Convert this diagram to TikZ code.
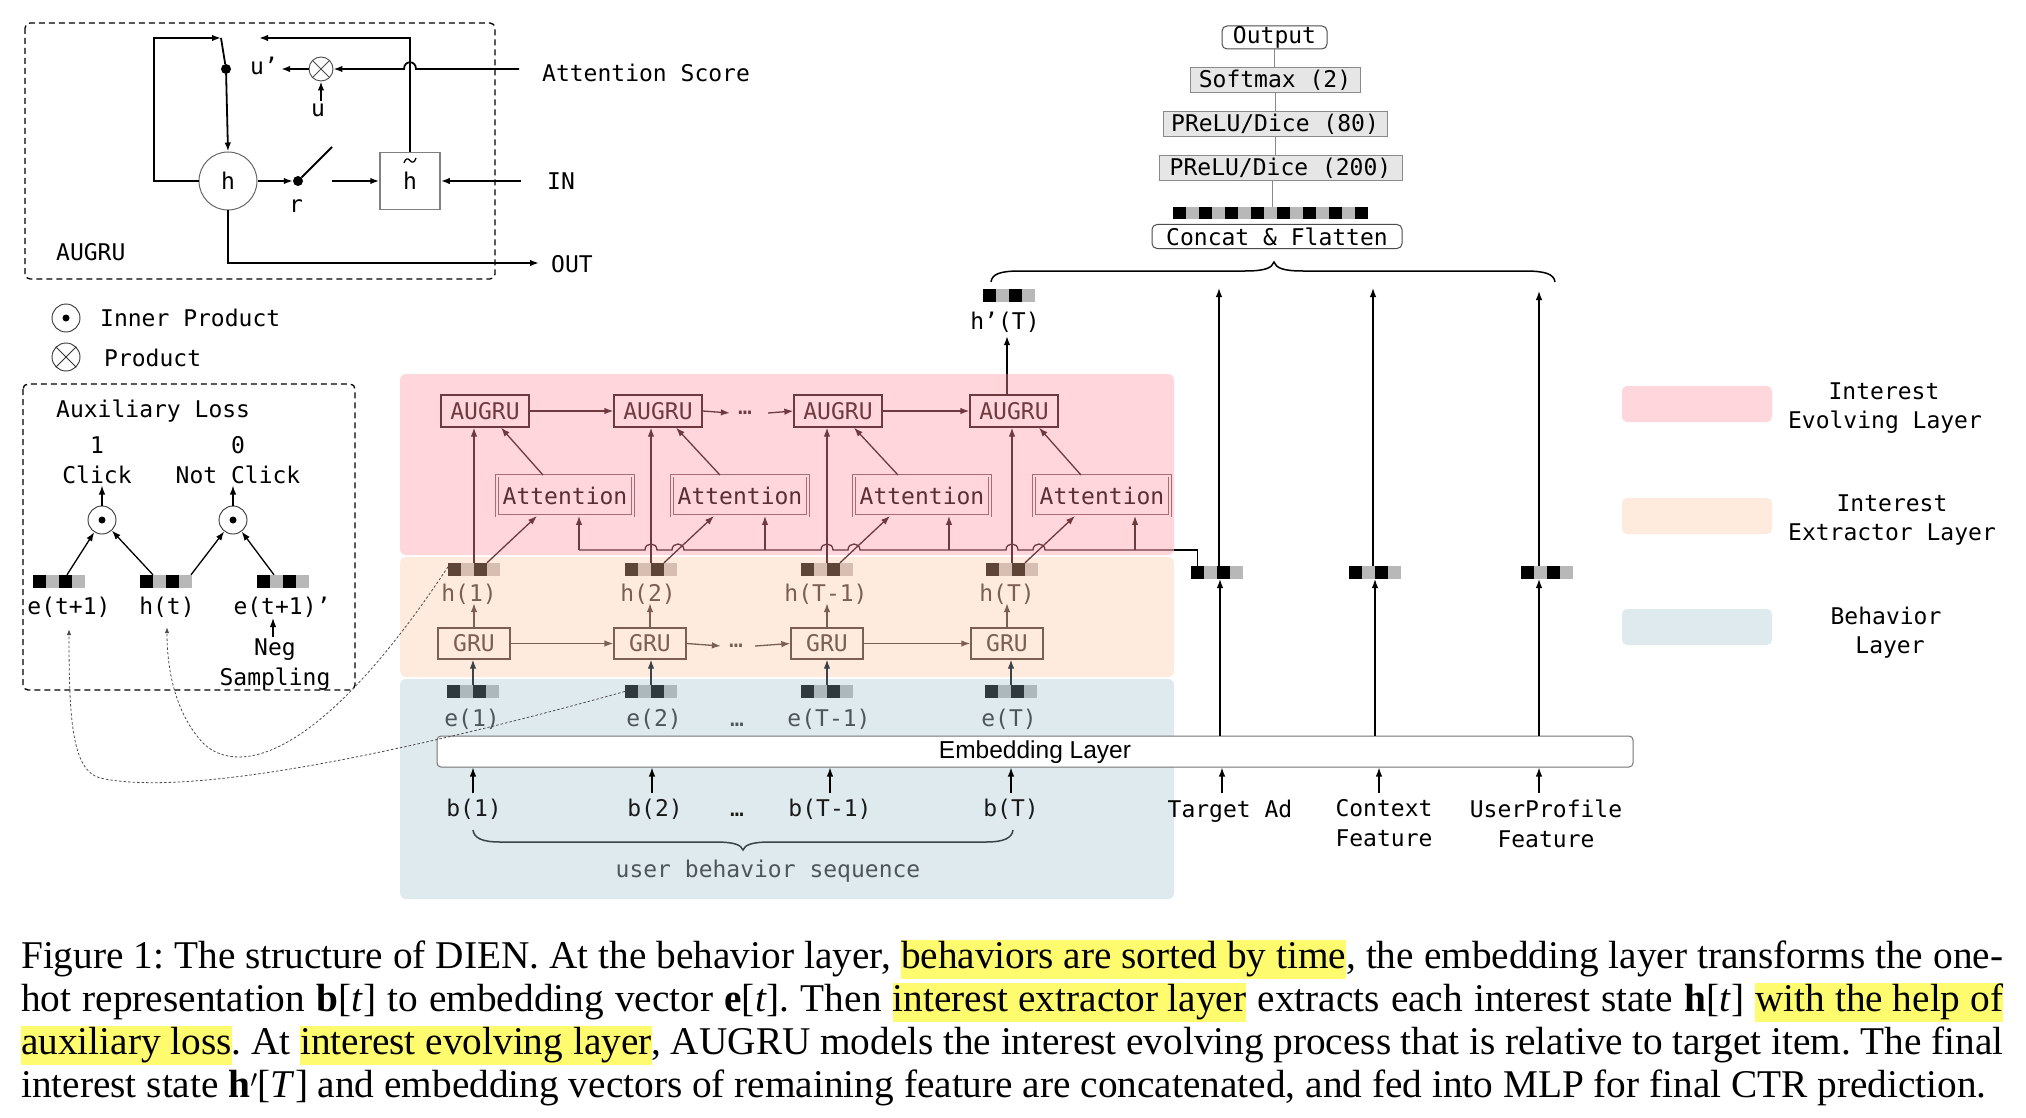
\documentclass[tikz,border=0pt]{standalone}
\usepackage{fontspec}
\setmainfont{Liberation Serif}
\newfontfamily\mono{DejaVu Sans Mono}
\newfontfamily\helv{Liberation Sans}
\usetikzlibrary{arrows.meta}
\definecolor{pinkL}{HTML}{FFD6DB}
\definecolor{peachL}{HTML}{FEEBDE}
\definecolor{blueL}{HTML}{DFEAEF}
\definecolor{evol}{HTML}{6E3A40}
\definecolor{attb}{HTML}{A86C72}
\definecolor{attt}{HTML}{5A2E34}
\definecolor{extr}{HTML}{7A5F52}
\definecolor{behv}{HTML}{3A4347}
\definecolor{etext}{HTML}{4C565B}
\definecolor{hdark}{HTML}{5E4537}
\definecolor{hlight}{HTML}{D6BFB2}
\definecolor{edark}{HTML}{2F393E}
\definecolor{elight}{HTML}{ADB8BD}
\definecolor{vgray}{HTML}{B8B8B8}
\definecolor{boxgray}{HTML}{E6E6E6}
\definecolor{mlpgray}{HTML}{8A8A8A}
\definecolor{hly}{HTML}{FFFB6E}
\newcommand\mf{\mono\fontsize{23}{27}\selectfont}
\newcommand\hlt[1]{{\setlength{\fboxsep}{0pt}\colorbox{hly}{\rule[-11pt]{0pt}{39pt}#1}}}
\newcommand\vecbar[5]{%
  \fill[#4] (#2,#3) rectangle ++(13,13);
  \fill[#5] (#2+13,#3) rectangle ++(13,13);
  \fill[#4] (#2+26,#3) rectangle ++(13,13);
  \fill[#5] (#2+39,#3) rectangle ++(13,13);
  \node[inner sep=0pt, minimum width=52pt, minimum height=13pt] (#1) at (#2+26,#3+6.5) {};
}
\tikzset{
  mt/.style={font=\mf, inner sep=0pt},
  tip/.style={-{Latex[length=9pt,width=6.5pt]}},
  ln/.style={line width=1.3pt},
  thk/.style={line width=1.8pt},
  dbox/.style={draw=black, dash pattern=on 6pt off 4pt, line width=1.3pt, rounded corners=5pt},
  augbox/.style={draw=evol, line width=1.3pt, minimum width=88pt, minimum height=32pt, inner sep=0pt, font=\mf, text=evol},
  attbox/.style={draw=attb, double=pinkL, double distance=2pt, line width=0.9pt, minimum width=136pt, minimum height=40pt, inner sep=0pt, font=\mf, text=attt},
  grubox/.style={draw=extr, line width=1.3pt, minimum width=72pt, minimum height=31pt, inner sep=0pt, font=\mf, text=extr},
  mlpbox/.style={draw=mlpgray, fill=boxgray, line width=1pt, minimum height=25pt, inner sep=0pt, font=\mf},
  rbox/.style={draw=black!70, rounded corners=5pt, line width=1pt, minimum height=24pt, inner sep=0pt, font=\mf},
  odotn/.style={circle, draw=black!80, line width=0.9pt, minimum size=28pt, inner sep=0pt},
  dotc/.style={draw=black!70, line width=0.8pt, dash pattern=on 2.5pt off 2pt, -{Latex[length=6pt,width=4.5pt]}},
  lay/.style={rounded corners=6pt},
}
\begin{document}
\begin{tikzpicture}[x=1pt,y=-1pt]
\useasboundingbox (0,0) rectangle (2026,1118);
\fill[white] (0,0) rectangle (2026,1118);

% ================= AUGRU panel =================
\draw[dbox] (25,23) rectangle (495,279);
\node[circle, draw=black!60, line width=1pt, minimum size=58pt, inner sep=0pt, mt] (hc) at (228,181) {h};
\node[draw=black!50, line width=1.5pt, minimum width=60pt, minimum height=57pt, inner sep=0pt] (ht) at (410,181) {};
\node[mt, anchor=base] (htl) at (410,190) {h};
\draw[black, line width=1.3pt] (404,163) .. controls (405.5,158) and (408,158) .. (410,160.5) .. controls (412,163) and (414.5,163) .. (416,158);
\node[circle, fill=black, inner sep=0pt, minimum size=10pt] (d1) at (226,69) {};
\node[circle, fill=black, inner sep=0pt, minimum size=10pt] (d2) at (298,181) {};
\node[circle, draw=black!70, line width=0.9pt, minimum size=24pt, inner sep=0pt] (ot) at (321,69) {};
\draw[black!70, line width=0.9pt] (ot.north west) -- (ot.south east) (ot.north east) -- (ot.south west);
\coordinate (lp1) at (154,38);
\coordinate (lp2) at (221,38);
\draw[thk, tip] (hc.west) -| (lp1) -- (lp2);
\draw[thk] (lp2) -- (d1);
\draw[thk, tip] (d1) -- (hc.north);
\node[mt, anchor=base] (up) at (264,75) {u’};
\draw[thk, tip] (ot.west) -- ([xshift=3pt]up.east |- ot.west);
\node[mt, anchor=base] (ul) at (318,117) {u};
\draw[thk, tip] ([yshift=3pt]ot |- ul.north) -- (ot.south);
\node[mt, anchor=base west] (as) at (542,82) {Attention Score};
\coordinate (asl) at (519,69);
\draw[thk, tip] (asl) -- (416,69) .. controls (416,60) and (404,60) .. (404,69) -- (ot.east);
\coordinate (tl) at (259,38);
\draw[thk, tip] (ht.north) |- (tl);
\draw[thk, tip] (hc.east) -- (d2);
\coordinate (sw) at (332,147);
\draw[thk] (d2) -- (sw);
\node[mt, anchor=base] at (296,212) {r};
\coordinate (sw2) at (332,181);
\draw[thk, tip] (sw2) -- (ht.west);
\node[mt, anchor=base west] (inl) at (547,190) {IN};
\draw[thk, tip] ([xshift=-26pt]inl.west |- ht.east) -- (ht.east);
\node[mt, anchor=base west] (outl) at (551,272) {OUT};
\coordinate (oc) at (539,263);
\draw[thk, tip] (hc.south) |- (oc);
\node[mt, anchor=base west] at (56,260) {AUGRU};

% ================= legend symbols =================
\node[odotn] (lg1) at (66,318) {};
\fill (lg1) circle[radius=3.5pt];
\node[mt, anchor=base west] at (100,326) {Inner Product};
\node[odotn] (lg2) at (66,357) {};
\draw[black!80, line width=0.9pt] (lg2.north west) -- (lg2.south east) (lg2.north east) -- (lg2.south west);
\node[mt, anchor=base west] at (104,366) {Product};

% ================= Auxiliary loss panel =================
\draw[dbox] (23,384) rectangle (355,690);
\node[mt, anchor=base west] at (56,417) {Auxiliary Loss};
\node[mt, anchor=base] at (97,453) {1};
\node[mt, anchor=base] (ck) at (97,483) {Click};
\node[mt, anchor=base] at (238,453) {0};
\node[mt, anchor=base] (nck) at (238,483) {Not Click};
\node[odotn] (o1) at (102,520) {};
\fill (o1) circle[radius=3.5pt];
\node[odotn] (o2) at (233,520) {};
\fill (o2) circle[radius=3.5pt];
\draw[ln, tip] (o1.north) -- ([yshift=-2pt]o1.north |- ck.south);
\draw[ln, tip] (o2.north) -- ([yshift=-2pt]o2.north |- nck.south);
\vecbar{ae}{33}{575}{black}{vgray}
\vecbar{ah}{140}{575}{black}{vgray}
\vecbar{an}{257}{575}{black}{vgray}
\draw[ln, tip] ([xshift=8pt]ae.north) -- (o1);
\draw[ln, tip] ([xshift=-13pt]ah.north) -- (o1);
\draw[ln, tip] ([xshift=25pt]ah.north) -- (o2);
\draw[ln, tip] ([xshift=-9pt]an.north) -- (o2);
\node[mt, anchor=base] (lae) at (69,614) {e(t+1)};
\node[mt, anchor=base] (lah) at (167,614) {h(t)};
\node[mt, anchor=base] (lan) at (282,614) {e(t+1)’};
\node[mt, anchor=base] (neg) at (275,655) {Neg};
\node[mt, anchor=base] at (275,685) {Sampling};
\draw[ln, tip] (273,637) -- (273,618);

% ================= layer backgrounds =================
\fill[pinkL, lay] (400,374) rectangle (1174,555);
\fill[peachL, lay] (400,557) rectangle (1174,677);
\fill[blueL, lay] (400,679) rectangle (1174,899);

% ================= interest evolving layer =================
\node[augbox] (aug1) at (485,411) {AUGRU};
\node[augbox] (aug2) at (658,411) {AUGRU};
\node[augbox] (aug3) at (838,411) {AUGRU};
\node[augbox] (aug4) at (1014,411) {AUGRU};
\node[mt, text=evol] (dotsA) at (745,413) {…};
\draw[ln, evol, tip] (aug1) -- (aug2);
\draw[ln, evol, tip] (aug2.east) -- ([xshift=-8pt]dotsA.west);
\draw[ln, evol, tip] ([xshift=16pt]dotsA.east) -- (aug3.west);
\draw[ln, evol, tip] (aug3) -- (aug4);
\node[attbox] (att1) at (565,495.5) {Attention};
\node[attbox] (att2) at (740,495.5) {Attention};
\node[attbox] (att3) at (922,495.5) {Attention};
\node[attbox] (att4) at (1102,495.5) {Attention};
\draw[ln, evol, tip] ([xshift=-22pt]att1.north) -- ([xshift=16pt]aug1.south);
\draw[ln, evol, tip] ([xshift=-20pt]att2.north) -- ([xshift=18pt]aug2.south);
\draw[ln, evol, tip] ([xshift=-24pt]att3.north) -- ([xshift=16pt]aug3.south);
\draw[ln, evol, tip] ([xshift=-21pt]att4.north) -- ([xshift=25pt]aug4.south);

% ================= interest extractor layer =================
\vecbar{h1}{448}{563}{hdark}{hlight}
\vecbar{h2}{625}{563}{hdark}{hlight}
\vecbar{h3}{801}{563}{hdark}{hlight}
\vecbar{h4}{986}{563}{hdark}{hlight}
\draw[ln, evol, tip] (h1.north) -- (h1.north |- aug1.south);
\draw[ln, evol, tip] (h2.north) -- (h2.north |- aug2.south);
\draw[ln, evol, tip] (h3.north) -- (h3.north |- aug3.south);
\draw[ln, evol, tip] (h4.north) -- (h4.north |- aug4.south);
\draw[ln, evol, tip] ([xshift=13pt]h1.north) -- ([xshift=-28pt]att1.south);
\draw[ln, evol, tip] ([xshift=13pt]h2.north) -- ([xshift=-26pt]att2.south);
\draw[ln, evol, tip] ([xshift=13pt]h3.north) -- ([xshift=-32pt]att3.south);
\draw[ln, evol, tip] ([xshift=13pt]h4.north) -- ([xshift=-27pt]att4.south);
% target ad line with hops
\draw[ln, evol] (1174,550) -- (1045,550) .. controls (1045,542) and (1033,542) .. (1033,550)
  -- (1018,550) .. controls (1018,542) and (1006,542) .. (1006,550)
  -- (860,550) .. controls (860,542) and (848,542) .. (848,550)
  -- (833,550) .. controls (833,542) and (821,542) .. (821,550)
  -- (684,550) .. controls (684,542) and (672,542) .. (672,550)
  -- (657,550) .. controls (657,542) and (645,542) .. (645,550)
  -- (579,550);
\coordinate (ta1) at (579,550);
\coordinate (ta2) at (765,550);
\coordinate (ta3) at (949,550);
\coordinate (ta4) at (1135,550);
\draw[ln, evol, tip] (ta1) -- (ta1 |- att1.south);
\draw[ln, evol, tip] (ta2) -- (ta2 |- att2.south);
\draw[ln, evol, tip] (ta3) -- (ta3 |- att3.south);
\draw[ln, evol, tip] (ta4) -- (ta4 |- att4.south);

\node[mt, anchor=base, text=extr] (h1l) at (469,601) {h(1)};
\node[mt, anchor=base, text=extr] (h2l) at (648,601) {h(2)};
\node[mt, anchor=base, text=extr] (h3l) at (826,601) {h(T-1)};
\node[mt, anchor=base, text=extr] (h4l) at (1007,601) {h(T)};
\node[grubox] (gru1) at (474,643.5) {GRU};
\node[grubox] (gru2) at (650,643.5) {GRU};
\node[grubox] (gru3) at (827,643.5) {GRU};
\node[grubox] (gru4) at (1007,643.5) {GRU};
\node[mt, text=extr] (dotsG) at (736,646) {…};
\draw[ln, extr, tip] (gru1) -- (gru2);
\draw[ln, extr, tip] (gru2.east) -- ([xshift=-8pt]dotsG.west);
\draw[ln, extr, tip] ([xshift=12pt]dotsG.east) -- (gru3.west);
\draw[ln, extr, tip] (gru3) -- (gru4);
\draw[ln, extr, tip] (gru1.north) -- ([yshift=1pt]gru1.north |- h1l.south);
\draw[ln, extr, tip] (gru2.north) -- ([yshift=1pt]gru2.north |- h2l.south);
\draw[ln, extr, tip] (gru3.north) -- ([yshift=1pt]gru3.north |- h3l.south);
\draw[ln, extr, tip] (gru4.north) -- ([yshift=1pt]gru4.north |- h4l.south);

% ================= behavior layer =================
\vecbar{e1}{447}{685}{edark}{elight}
\vecbar{e2}{625}{685}{edark}{elight}
\vecbar{e3}{801}{685}{edark}{elight}
\vecbar{e4}{985}{685}{edark}{elight}
\draw[ln, behv, tip] (e1.north) -- (e1.north |- gru1.south);
\draw[ln, behv, tip] (e2.north) -- (e2.north |- gru2.south);
\draw[ln, behv, tip] (e3.north) -- (e3.north |- gru3.south);
\draw[ln, behv, tip] (e4.north) -- (e4.north |- gru4.south);
\node[mt, anchor=base, text=etext] at (472,726) {e(1)};
\node[mt, anchor=base, text=etext] at (654,726) {e(2)};
\node[mt, anchor=base, text=etext] at (737,726) {…};
\node[mt, anchor=base, text=etext] at (829,726) {e(T-1)};
\node[mt, anchor=base, text=etext] at (1009,726) {e(T)};

\node[draw=black!55, fill=white, rounded corners=4pt, line width=1pt, minimum width=1196pt, minimum height=31pt, inner sep=0pt] (emb) at (1035,751.5) {};
\node[font=\helv\fontsize{24.5}{28}\selectfont, inner sep=0pt] at (1035,752) {Embedding Layer};

\node[mt, anchor=base, text=black!90] (b1) at (474,816) {b(1)};
\node[mt, anchor=base, text=black!90] (b2) at (655,816) {b(2)};
\node[mt, anchor=base, text=black!90] at (737,816) {…};
\node[mt, anchor=base, text=black!90] (b3) at (830,816) {b(T-1)};
\node[mt, anchor=base, text=black!90] (b4) at (1011,816) {b(T)};
\draw[ln, tip] ([xshift=-1pt,yshift=5pt]b1.north) -- ([xshift=-1pt]b1.north |- emb.south);
\draw[ln, tip] ([xshift=-3pt,yshift=5pt]b2.north) -- ([xshift=-3pt]b2.north |- emb.south);
\draw[ln, tip] ([yshift=5pt]b3.north) -- (b3.north |- emb.south);
\draw[ln, tip] ([yshift=5pt]b4.north) -- (b4.north |- emb.south);
\draw[behv, line width=1.5pt] (473,830) .. controls (474,838) and (482,842) .. (500,842) -- (715,842)
  .. controls (735,842) and (741,845) .. (743,850) .. controls (745,845) and (751,842) .. (771,842)
  -- (986,842) .. controls (1004,842) and (1012,838) .. (1013,830);
\node[mt, anchor=base, text=etext] at (768,877) {user behavior sequence};

% ================= dotted curves =================
\draw[dotc] ([xshift=-26pt,yshift=-4pt]h1.north) .. controls (320,760) and (240,775) .. (205,745)
  .. controls (180,720) and (167,680) .. ([yshift=-10pt]lah.south);
\draw[dotc] (e2.west) .. controls (450,740) and (200,800) .. (100,778)
  .. controls (72,770) and (69,720) .. ([yshift=-12pt]lae.south);

% ================= h'(T) and other features =================
\draw[ln, evol] ([xshift=-7pt]aug4.north) -- ([xshift=-7pt]aug4.north |- 0,374);
\node[mt, anchor=base] (hTl) at (1005,329) {h’(T)};
\draw[ln, tip] ([xshift=-7pt]aug4.north |- 0,374) -- ([xshift=-7pt,yshift=-4pt]aug4.north |- hTl.south);
\vecbar{hT}{983}{289}{black}{vgray}

\vecbar{tb}{1191}{566}{black}{vgray}
\vecbar{cb}{1349}{566}{black}{vgray}
\vecbar{pb}{1521}{566}{black}{vgray}
\draw[ln] (1174,550) -| ([xshift=-19.5pt]tb.north);
\coordinate (tt) at (1219,288);
\coordinate (ct) at (1373,288);
\coordinate (pt) at (1539,291);
\draw[ln, tip] (tb.north -| tt) -- (tt);
\draw[ln, tip] (cb.north -| ct) -- (ct);
\draw[ln, tip] (pb.north -| pt) -- (pt);
\coordinate (eu1) at (1220,579);
\coordinate (eu2) at (1375,579);
\coordinate (eu3) at (1539,579);
\draw[ln, tip] (emb.north -| eu1) -- (eu1);
\draw[ln, tip] (emb.north -| eu2) -- (eu2);
\draw[ln, tip] (emb.north -| eu3) -- (eu3);

\node[mt, anchor=base] (tal) at (1230,817) {Target Ad};
\node[mt, anchor=base] (cfl) at (1384,816) {Context};
\node[mt, anchor=base] at (1384,846) {Feature};
\node[mt, anchor=base] (upl) at (1546,817) {UserProfile};
\node[mt, anchor=base] at (1546,847) {Feature};
\coordinate (il1) at (1222,793);
\coordinate (il2) at (1379,793);
\coordinate (il3) at (1539,793);
\draw[ln, tip] (il1) -- (il1 |- emb.south);
\draw[ln, tip] (il2) -- (il2 |- emb.south);
\draw[ln, tip] (il3) -- (il3 |- emb.south);

% ================= MLP column =================
\draw[black, line width=1.5pt] (991,282) .. controls (992,274) and (1000,271) .. (1020,271) -- (1245,271)
  .. controls (1265,271) and (1272,268) .. (1274,262) .. controls (1276,268) and (1283,271) .. (1303,271)
  -- (1525,271) .. controls (1545,271) and (1554,274) .. (1555,282);
\node[rbox, minimum width=250pt] (cf) at (1277,236.5) {Concat \& Flatten};
\foreach \i in {0,...,14} {
  \pgfmathsetmacro\xx{1173+13*\i}
  \ifodd\i \fill[vgray] (\xx,207) rectangle ++(13,12); \else \fill[black] (\xx,207) rectangle ++(13,12); \fi
}
\node[inner sep=0pt, minimum width=195pt, minimum height=12pt] (cbar) at (1270.5,213) {};
\node[mlpbox, minimum width=243pt] (p200) at (1280.5,168.5) {PReLU/Dice (200)};
\node[mlpbox, minimum width=224pt] (p80) at (1275,124.5) {PReLU/Dice (80)};
\node[mlpbox, minimum width=170pt] (smx) at (1275,80.5) {Softmax (2)};
\node[rbox, minimum width=105pt, minimum height=23pt] (outp) at (1274.5,37.5) {Output};
\draw[mlpgray, line width=1pt] (outp.south) -- (outp.south |- smx.north);
\draw[mlpgray, line width=1pt] (smx.south) -- (smx.south |- p80.north);
\draw[mlpgray, line width=1pt] (p80.south) -- (p80.south |- p200.north);
\draw[mlpgray, line width=1pt] ([xshift=-8pt]p200.south) -- ([xshift=-8pt]p200.south |- cbar.north);

% ================= layer legend =================
\fill[pinkL, rounded corners=5pt] (1622,386) rectangle (1772,422);
\fill[peachL, rounded corners=5pt] (1622,498) rectangle (1772,534);
\fill[blueL, rounded corners=5pt] (1622,609) rectangle (1772,645);
\node[mt, anchor=base] at (1884,399) {Interest};
\node[mt, anchor=base] at (1885,428) {Evolving Layer};
\node[mt, anchor=base] at (1892,511) {Interest};
\node[mt, anchor=base] at (1892,540) {Extractor Layer};
\node[mt, anchor=base] at (1886,624) {Behavior};
\node[mt, anchor=base] at (1890,653) {Layer};

% ================= caption =================
\begin{scope}[font=\fontsize{39.3}{43}\selectfont\frenchspacing]
\node[anchor=base west, inner sep=0pt] (cap1) at (21,968) {\makebox[1982pt][s]{Figure 1: The structure of DIEN. At the behavior layer, \hlt{behaviors are sorted by time}, the embedding layer transforms the one-}};
\node[anchor=base west, inner sep=0pt] (cap2) at (21,1011) {\makebox[1982pt][s]{hot representation \textbf{b}[\textit{t}] to embedding vector \textbf{e}[\textit{t}]. Then \hlt{interest extractor layer} extracts each interest state \textbf{h}[\textit{t}] \hlt{with the help of}}};
\node[anchor=base west, inner sep=0pt] (cap3) at (21,1054) {\makebox[1982pt][s]{\hlt{auxiliary loss}. At \hlt{interest evolving layer}, AUGRU models the interest evolving process that is relative to target item. The final}};
\node[anchor=base west, inner sep=0pt] (cap4) at (21,1097) {interest state \textbf{h}$'$[\textit{T}] and embedding vectors of remaining feature are concatenated, and fed into MLP for final CTR prediction.};
\end{scope}
\end{tikzpicture}
\end{document}
